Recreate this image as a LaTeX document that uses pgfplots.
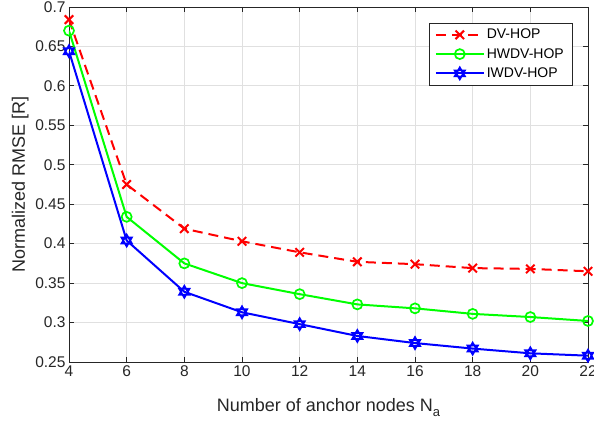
\documentclass[border=0pt]{standalone}
\usepackage{fontspec}
\setmainfont{Liberation Sans}
\usepackage{pgfplots}
\pgfplotsset{compat=1.18}
\definecolor{axgray}{gray}{0.15}
\definecolor{gridgray}{gray}{0.88}
\pgfdeclareplotmark{hexagram}{%
  \pgfpathmoveto{\pgfpointpolar{90}{\pgfplotmarksize}}%
  \pgfpathlineto{\pgfpointpolar{210}{\pgfplotmarksize}}%
  \pgfpathlineto{\pgfpointpolar{330}{\pgfplotmarksize}}%
  \pgfpathclose
  \pgfpathmoveto{\pgfpointpolar{270}{\pgfplotmarksize}}%
  \pgfpathlineto{\pgfpointpolar{30}{\pgfplotmarksize}}%
  \pgfpathlineto{\pgfpointpolar{150}{\pgfplotmarksize}}%
  \pgfpathclose
  \pgfusepathqstroke
}
\begin{document}
\begin{tikzpicture}
\useasboundingbox (-69pt,-62.3pt) rectangle (525pt,362pt);
\begin{axis}[
  at={(0,0)}, anchor=south west,
  scale only axis, width=519pt, height=355pt,
  xmin=4, xmax=22, ymin=0.25, ymax=0.7,
  xtick={4,6,...,22},
  ytick={0.25,0.3,0.35,0.4,0.45,0.5,0.55,0.6,0.65,0.7},
  /pgf/number format/assume math mode=true,
  tick label style={font=\fontsize{15.5}{18}\selectfont, text=axgray},
  yticklabel style={/pgf/number format/precision=2},
  tick align=inside, major tick length=5pt,
  major tick style={axgray, line width=0.8pt},
  axis line style={axgray, line width=0.8pt},
  grid=major, major grid style={gridgray, line width=0.8pt},
  xlabel={Number of anchor nodes N\raisebox{-5pt}{\fontsize{13}{13}\selectfont a}},
  ylabel={Normalized RMSE [R]},
  label style={font=\fontsize{18}{21}\selectfont, text=axgray},
  xlabel style={at={(axis description cs:0.5,-0.139)}, anchor=base},
  ylabel style={at={(axis description cs:-0.0848,0.5)}, anchor=base},
  legend style={at={(rel axis cs:1,1)}, anchor=north east, xshift=-16pt, yshift=-16pt,
    font=\fontsize{14}{16}\selectfont, draw=axgray,
    row sep=4pt, inner ysep=4pt, inner xsep=6pt},
  legend cell align=left,
  legend image code/.code={%
    \draw[mark repeat=2,mark phase=2,#1] plot coordinates {(0pt,0pt)(24pt,0pt)(48pt,0pt)};},
]
\addplot[red, line width=2pt, dash pattern=on 10pt off 6pt, mark=x, mark size=6pt, mark options={solid, line width=2pt}]
 coordinates {(4,0.684)(6,0.475)(8,0.419)(10,0.403)(12,0.389)(14,0.377)(16,0.374)(18,0.369)(20,0.368)(22,0.365)};
\addlegendentry{DV-HOP}
\addplot[green, line width=2pt, mark=o, mark size=5pt, mark options={solid, line width=1.7pt}]
 coordinates {(4,0.670)(6,0.434)(8,0.375)(10,0.350)(12,0.336)(14,0.323)(16,0.318)(18,0.311)(20,0.307)(22,0.302)};
\addlegendentry{HWDV-HOP}
\addplot[blue, line width=2pt, mark=hexagram, mark size=6pt, mark options={solid, line width=1.7pt}]
 coordinates {(4,0.644)(6,0.404)(8,0.339)(10,0.313)(12,0.298)(14,0.283)(16,0.274)(18,0.267)(20,0.261)(22,0.258)};
\addlegendentry{IWDV-HOP}
\end{axis}
\end{tikzpicture}
\end{document}
